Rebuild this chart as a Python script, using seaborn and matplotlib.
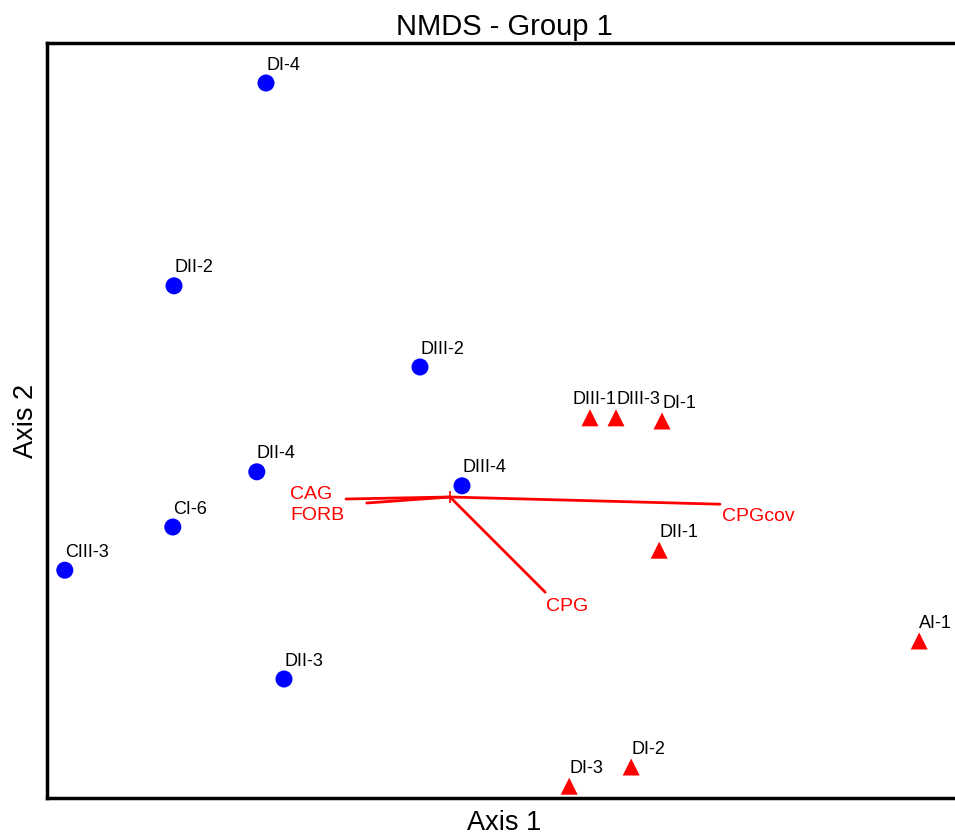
import matplotlib
matplotlib.use("Agg")
import matplotlib.pyplot as plt
import seaborn as sns
import pandas as pd

# ---- data (NMDS scores) ----
sites = ["DI-4", "DII-2", "DIII-2", "DII-4", "DIII-4", "CI-6", "CIII-3", "DII-3",
         "DIII-1", "DIII-3", "DI-1", "DII-1", "AI-1", "DI-2", "DI-3"]
axis1 = [-0.460, -0.690, -0.075, -0.483, 0.030, -0.693, -0.963, -0.415,
         0.350, 0.415, 0.530, 0.523, 1.173, 0.453, 0.298]
axis2 = [1.035, 0.528, 0.325, 0.063, 0.028, -0.075, -0.183, -0.455,
         0.198, 0.198, 0.190, -0.133, -0.360, -0.675, -0.723]
groups = ["1"] * 8 + ["2"] * 7

vectors = ["CAG", "FORB", "CPGcov", "CPG"]
vec_x = [-0.260, -0.208, 0.675, 0.238]
vec_y = [-0.005, -0.015, -0.018, -0.238]

df = pd.DataFrame({"site": sites, "Axis 1": axis1, "Axis 2": axis2, "group": groups})

sns.set_theme(style="white")
plt.rcParams["font.family"] = ["Liberation Sans", "DejaVu Sans"]
plt.rcParams["text.color"] = "black"
plt.rcParams["axes.labelcolor"] = "black"

fig = plt.figure(figsize=(9.55, 8.35), dpi=100)
W, H = 955, 835
ax = fig.add_axes([47 / W, 1 - 798 / H, (962 - 47) / W, (798 - 43) / H])

sns.scatterplot(data=df, x="Axis 1", y="Axis 2", hue="group", style="group",
                palette={"1": "#0000ff", "2": "#ff0000"},
                markers={"1": "o", "2": "^"}, s=150, edgecolor="none",
                legend=False, ax=ax, zorder=3)

# site labels
nudge = {"DIII-1": -17}
for s, x, y in zip(sites, axis1, axis2):
    ax.annotate(s, (x, y), xytext=(nudge.get(s, 0), 18), textcoords="offset pixels",
                ha="left", va="center", fontsize=13, color="black")

# biplot vectors
label_style = {
    "CAG": ("right", -14, 5),
    "FORB": ("right", -22, -13),
    "CPGcov": ("left", 2, -12),
    "CPG": ("left", 1, -14),
}
for v, x, y in zip(vectors, vec_x, vec_y):
    ax.plot([0, x], [0, y], color="#ff0000", lw=2, zorder=2)
    ha, dx, dy = label_style[v]
    ax.annotate(v, (x, y), xytext=(dx, dy), textcoords="offset pixels",
                ha=ha, va="center", fontsize=14, color="#ff0000")
ax.plot([0], [0], marker="+", color="#ff0000", ms=9, mew=1.2, zorder=2)

ax.set_xlim((47 - 450) / 400, (962 - 450) / 400)
ax.set_ylim((497 - 798) / 400, (497 - 43) / 400)
ax.set_xticks([])
ax.set_yticks([])
for side in ["left", "bottom", "top", "right"]:
    ax.spines[side].set_color("black")
    ax.spines[side].set_linewidth(2.5)

ax.set_xlabel("Axis 1", fontsize=19.5, labelpad=9)
ax.set_ylabel("Axis 2", fontsize=19.5, labelpad=6)
ax.set_title("NMDS - Group 1", fontsize=21, pad=6, color="black")

fig.savefig("out.png", dpi=100)
